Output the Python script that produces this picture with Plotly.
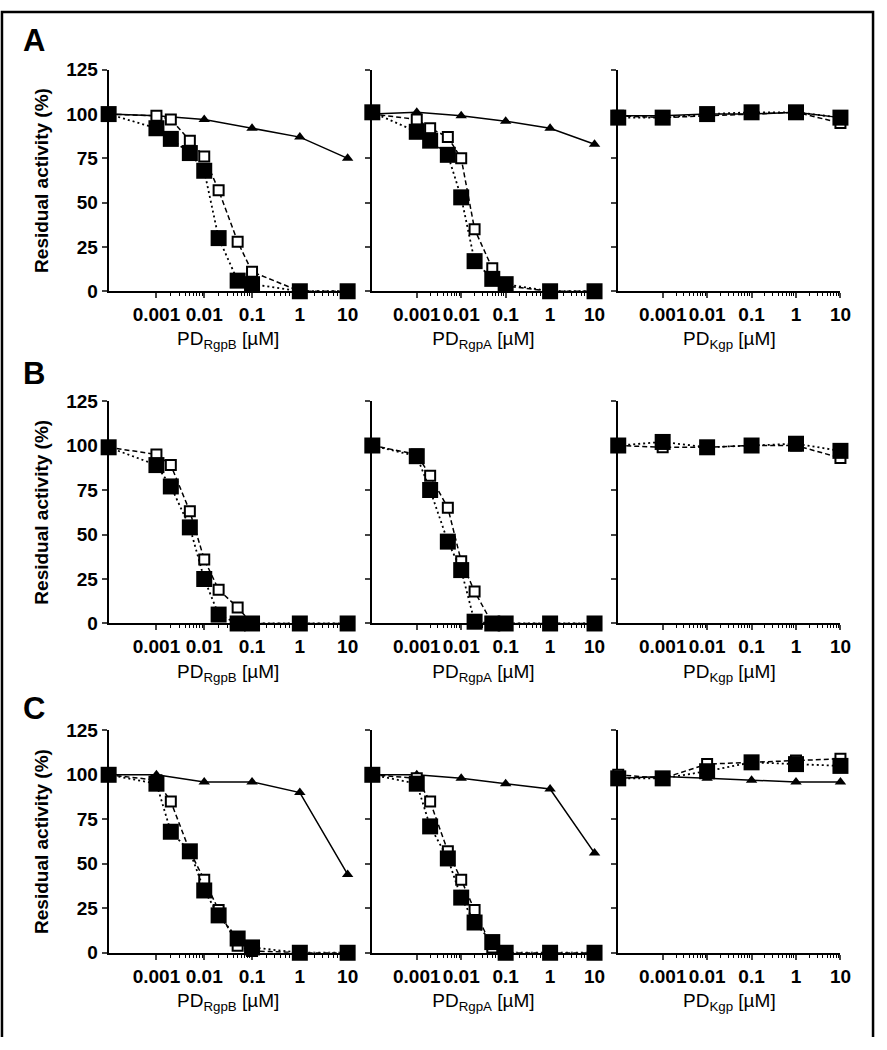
import plotly.graph_objects as go

# concentrations (µM); the untreated control is drawn at the left edge of the log axis
CONTROL_X = 1e-4
conc_rgp = [CONTROL_X, 0.001, 0.002, 0.005, 0.01, 0.02, 0.05, 0.1, 1, 10]
conc_tri = [CONTROL_X, 0.001, 0.01, 0.1, 1, 10]
conc_kgp = [CONTROL_X, 0.001, 0.01, 0.1, 1, 10]

tick_vals = [0.001, 0.01, 0.1, 1, 10]
tick_text = ['0.001', '0.01', '0.1', '1', '10']
y_ticks = [0, 25, 50, 75, 100, 125]

panel_letters = ['A', 'B', 'C']
x_titles = ['PD<sub>RgpB</sub> [µM]', 'PD<sub>RgpA</sub> [µM]', 'PD<sub>Kgp</sub> [µM]']

# Row A
a_rgpb_filled = [100, 92, 86, 78, 68, 30, 6, 4, 0, 0]
a_rgpb_open = [100, 99, 97, 85, 76, 57, 28, 11, 0, 0]
a_rgpb_tri = [100, 99, 97, 92, 87, 75]
a_rgpa_filled = [101, 90, 85, 77, 53, 17, 7, 4, 0, 0]
a_rgpa_open = [100, 97, 92, 87, 75, 35, 13, 3, 0, 0]
a_rgpa_tri = [100, 101, 99, 96, 92, 83]
a_kgp_filled = [98, 98, 100, 101, 101, 98]
a_kgp_open = [99, 98, 99, 100, 101, 95]
a_kgp_tri = [99, 99, 100, 100, 101, 98]

# Row B
b_rgpb_filled = [99, 89, 77, 54, 25, 5, 0, 0, 0, 0]
b_rgpb_open = [99, 95, 89, 63, 36, 19, 9, 0, 0, 0]
b_rgpa_filled = [100, 94, 75, 46, 30, 1, 0, 0, 0, 0]
b_rgpa_open = [100, 95, 83, 65, 35, 18, 0, 0, 0, 0]
b_kgp_filled = [100, 102, 99, 100, 101, 97]
b_kgp_open = [100, 99, 99, 100, 100, 93]

# Row C
c_rgpb_filled = [100, 95, 68, 57, 35, 21, 8, 3, 0, 0]
c_rgpb_open = [100, 97, 85, 57, 41, 24, 4, 1, 0, 0]
c_rgpb_tri = [100, 100, 96, 96, 90, 44]
c_rgpa_filled = [100, 95, 71, 53, 31, 17, 6, 0, 0, 0]
c_rgpa_open = [100, 98, 85, 57, 41, 24, 3, 0, 0, 0]
c_rgpa_tri = [100, 100, 98, 95, 92, 56]
c_kgp_filled = [98, 98, 102, 107, 106, 105]
c_kgp_open = [100, 98, 106, 107, 108, 109]
c_kgp_tri = [98, 99, 98, 97, 96, 96]

panels = [
    # (row, col, x for squares, filled, open, triangles)
    (0, 0, conc_rgp, a_rgpb_filled, a_rgpb_open, a_rgpb_tri),
    (0, 1, conc_rgp, a_rgpa_filled, a_rgpa_open, a_rgpa_tri),
    (0, 2, conc_kgp, a_kgp_filled, a_kgp_open, a_kgp_tri),
    (1, 0, conc_rgp, b_rgpb_filled, b_rgpb_open, None),
    (1, 1, conc_rgp, b_rgpa_filled, b_rgpa_open, None),
    (1, 2, conc_kgp, b_kgp_filled, b_kgp_open, None),
    (2, 0, conc_rgp, c_rgpb_filled, c_rgpb_open, c_rgpb_tri),
    (2, 1, conc_rgp, c_rgpa_filled, c_rgpa_open, c_rgpa_tri),
    (2, 2, conc_kgp, c_kgp_filled, c_kgp_open, c_kgp_tri),
]

W, H = 887, 1050
col_px = [(110, 352), (377, 602), (626, 851)]
row_px = [(61, 287), (399, 626), (735, 962)]
letter_y = [31, 371, 713]

FONT = 'Liberation Sans, Arial, sans-serif'
minor_vals = [m * 10 ** e for e in range(-3, 1) for m in range(2, 10)]

fig = go.Figure()
layout = {}

for k, (r, c, xs, filled, opened, tri) in enumerate(panels, start=1):
    xa, ya = f'x{k}', f'y{k}'
    if tri is not None:
        fig.add_trace(go.Scatter(x=conc_tri, y=tri, xaxis=xa, yaxis=ya, mode='lines+markers',
                                 line=dict(color='black', width=1.5),
                                 marker=dict(symbol='triangle-up', size=10, color='black'),
                                 cliponaxis=False))
    fig.add_trace(go.Scatter(x=xs, y=opened, xaxis=xa, yaxis=ya, mode='lines+markers',
                             line=dict(color='black', width=1.5, dash='5px,3px'),
                             marker=dict(symbol='square', size=10, color='white',
                                         line=dict(color='black', width=2)),
                             cliponaxis=False))
    fig.add_trace(go.Scatter(x=xs, y=filled, xaxis=xa, yaxis=ya, mode='lines+markers',
                             line=dict(color='black', width=1.8, dash='2px,3px'),
                             marker=dict(symbol='square', size=16, color='black'),
                             cliponaxis=False))

    x0, x1 = col_px[c]
    y0, y1 = row_px[r]
    suffix = '' if k == 1 else str(k)
    layout[f'xaxis{suffix}'] = dict(
        type='log', range=[-4, 1], domain=[x0 / W, x1 / W], anchor=ya,
        tickvals=tick_vals, ticktext=tick_text, tickangle=0,
        ticks='outside', ticklen=5, tickwidth=2,
        minor=dict(tickvals=minor_vals, ticks='outside', ticklen=3, tickwidth=1, tickcolor='black'),
        showline=True, linecolor='black', linewidth=2, showgrid=False, zeroline=False,
        layer='below traces',
        tickfont=dict(family=FONT, size=19, color='black', weight='bold'),
        title=dict(text=x_titles[c], standoff=8, font=dict(family=FONT, size=19, color='black')))
    yaxis = dict(
        range=[0, 125], domain=[1 - y1 / H, 1 - y0 / H], anchor=xa,
        tickvals=y_ticks, showticklabels=(c == 0), ticks='outside', ticklen=5, tickwidth=2,
        showline=True, linecolor='black', linewidth=2, showgrid=False, zeroline=False,
        layer='below traces',
        tickfont=dict(family=FONT, size=19, color='black', weight='bold'))
    if c == 0:
        yaxis['title'] = dict(text='Residual activity (%)', standoff=12,
                              font=dict(family=FONT, size=19, color='black', weight='bold'))
    layout[f'yaxis{suffix}'] = yaxis

fig.update_layout(width=W, height=H, margin=dict(l=0, r=0, t=0, b=0),
                  plot_bgcolor='white', paper_bgcolor='white', showlegend=False, **layout)

for letter, ly in zip(panel_letters, letter_y):
    fig.add_annotation(text=letter, xref='paper', yref='paper', x=34 / W, y=1 - ly / H,
                       xanchor='center', yanchor='middle', showarrow=False,
                       font=dict(family=FONT, size=31, color='black', weight='bold'))

# outer frame (bottom edge falls off the picture)
fig.add_shape(type='path', xref='paper', yref='paper',
              path=f'M {2 / W},{1 - 1048 / H} L {2 / W},{1 - 2 / H} L {884 / W},{1 - 2 / H} L {884 / W},{1 - 1048 / H}',
              line=dict(color='black', width=2.5))

# drop the browser's default page margin so the figure sits at the window's corner
fig.write_html('out.html', config={'displayModeBar': False},
               post_script="document.body.style.margin='0';")
